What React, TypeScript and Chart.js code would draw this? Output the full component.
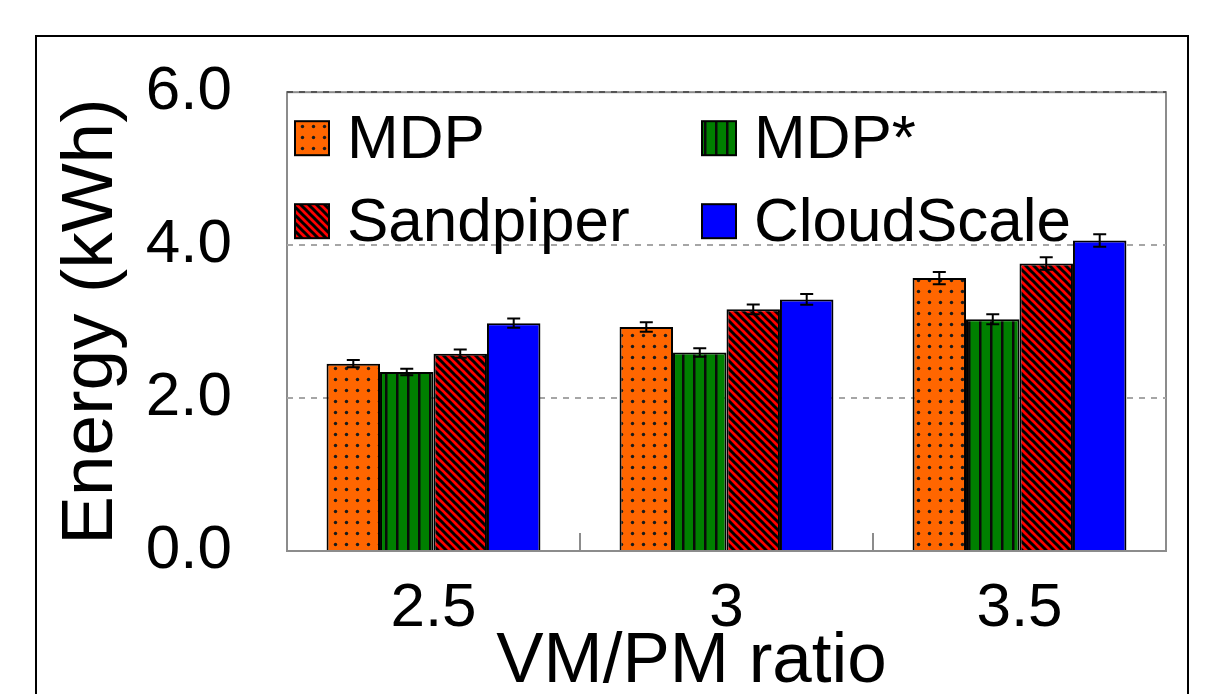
import React, { useEffect, useRef } from 'react';
import { Chart, registerables } from 'chart.js';

Chart.register(...registerables);

const categories = ['2.5', '3', '3.5'];
const seriesLabels = ['MDP', 'MDP*', 'Sandpiper', 'CloudScale'];
const mdpValues = [2.45, 2.93, 3.57];
const mdpStarValues = [2.34, 2.595, 3.03];
const sandpiperValues = [2.58, 3.16, 3.76];
const cloudScaleValues = [2.98, 3.29, 4.06];
const mdpErrors = [0.048, 0.063, 0.08];
const mdpStarErrors = [0.043, 0.056, 0.066];
const sandpiperErrors = [0.054, 0.065, 0.082];
const cloudScaleErrors = [0.06, 0.07, 0.082];
const yMin = 0;
const yMax = 6;
const yStep = 2;
const xTitle = 'VM/PM ratio';
const yTitle = 'Energy (kWh)';

const FONT = '"Liberation Sans", Arial, sans-serif';

function makePattern(kind: string): CanvasPattern | string {
  const c = document.createElement('canvas');
  const ctx = c.getContext('2d');
  if (!ctx) return '#888';
  if (kind === 'dots') {
    c.width = 11; c.height = 11;
    ctx.fillStyle = '#ff6600';
    ctx.fillRect(0, 0, 11, 11);
    ctx.fillStyle = '#1a1a1a';
    ctx.beginPath();
    ctx.arc(5.5, 5.5, 1.7, 0, Math.PI * 2);
    ctx.fill();
  } else if (kind === 'vlines') {
    c.width = 11; c.height = 4;
    ctx.fillStyle = '#008000';
    ctx.fillRect(0, 0, 11, 4);
    ctx.fillStyle = '#0a0a0a';
    ctx.fillRect(0, 0, 2.5, 4);
  } else if (kind === 'diag') {
    c.width = 8; c.height = 8;
    ctx.fillStyle = '#ff0000';
    ctx.fillRect(0, 0, 8, 8);
    ctx.strokeStyle = '#000';
    ctx.lineWidth = 3;
    for (let k = -1; k <= 1; k++) {
      ctx.beginPath();
      ctx.moveTo(k * 8 - 2, -2);
      ctx.lineTo(k * 8 + 10, 10);
      ctx.stroke();
    }
  } else {
    return '#0000ff';
  }
  const p = ctx.createPattern(c, 'repeat');
  return p || '#888';
}

const decorPlugin = {
  id: 'decor',
  beforeDraw(chart: any) {
    const { ctx, chartArea: a } = chart;
    ctx.save();
    ctx.fillStyle = '#fff';
    ctx.fillRect(0, 0, chart.width, chart.height);
    ctx.strokeStyle = '#000';
    ctx.lineWidth = 2;
    ctx.strokeRect(36, 36, 1152, 740);
    ctx.strokeStyle = '#8c8c8c';
    ctx.lineWidth = 2;
    ctx.strokeRect(a.left, a.top, a.right - a.left, a.bottom - a.top);
    ctx.restore();
  },
  afterDatasetsDraw(chart: any) {
    const { ctx, chartArea: a } = chart;
    const xScale = chart.scales.x;
    const yScale = chart.scales.y;
    ctx.save();
    // inward category-boundary ticks
    ctx.strokeStyle = '#8c8c8c';
    ctx.lineWidth = 2;
    for (let i = 0; i < categories.length - 1; i++) {
      const x = (xScale.getPixelForValue(i) + xScale.getPixelForValue(i + 1)) / 2;
      ctx.beginPath();
      ctx.moveTo(x, a.bottom);
      ctx.lineTo(x, a.bottom - 18);
      ctx.stroke();
    }
    // error bars
    ctx.strokeStyle = '#000';
    ctx.lineWidth = 2;
    chart.data.datasets.forEach((ds: any, di: number) => {
      const meta = chart.getDatasetMeta(di);
      meta.data.forEach((bar: any, j: number) => {
        const v = ds.data[j];
        const e = ds.errors[j];
        const yt = yScale.getPixelForValue(v + e);
        const yb = yScale.getPixelForValue(v - e);
        const x = bar.x;
        ctx.beginPath();
        ctx.moveTo(x, yt); ctx.lineTo(x, yb);
        ctx.moveTo(x - 6.5, yt); ctx.lineTo(x + 6.5, yt);
        ctx.moveTo(x - 6.5, yb); ctx.lineTo(x + 6.5, yb);
        ctx.stroke();
      });
    });
    // legend (2 columns x 2 rows)
    const colX = [a.left + 8, a.left + 415];
    const rowY = [a.top + 29, a.top + 112];
    ctx.font = '62px ' + FONT;
    ctx.textAlign = 'left';
    ctx.textBaseline = 'alphabetic';
    chart.data.datasets.forEach((ds: any, di: number) => {
      const bx = colX[di % 2];
      const by = rowY[Math.floor(di / 2)];
      ctx.fillStyle = ds.backgroundColor;
      ctx.fillRect(bx, by, 34, 34);
      ctx.strokeStyle = '#000';
      ctx.lineWidth = 2;
      ctx.strokeRect(bx, by, 34, 34);
      ctx.fillStyle = '#000';
      ctx.fillText(ds.label, bx + 52, by + 37);
    });
    // x axis title
    ctx.font = '71px ' + FONT;
    ctx.textAlign = 'center';
    ctx.fillStyle = '#000';
    ctx.fillText(xTitle, (a.left + a.right) / 2 - 35, 682);
    ctx.restore();
  },
};

export default function App() {
  const ref = useRef<HTMLCanvasElement>(null);
  useEffect(() => {
    document.body.style.margin = '0';
    if (!ref.current) return;
    const patterns = [makePattern('dots'), makePattern('vlines'), makePattern('diag'), makePattern('solid')];
    const values = [mdpValues, mdpStarValues, sandpiperValues, cloudScaleValues];
    const errors = [mdpErrors, mdpStarErrors, sandpiperErrors, cloudScaleErrors];
    const chart = new Chart(ref.current, {
      type: 'bar',
      data: {
        labels: categories,
        datasets: seriesLabels.map((label, i) => ({
          label,
          data: values[i],
          errors: errors[i],
          backgroundColor: patterns[i],
          borderColor: '#000',
          borderWidth: 2,
          categoryPercentage: 0.73,
          barPercentage: 1,
        })) as any,
      },
      options: {
        responsive: false,
        animation: false,
        devicePixelRatio: 1,
        layout: { padding: { top: 89, right: 49, left: 0, bottom: 0 } },
        plugins: { legend: { display: false }, tooltip: { enabled: false } },
        scales: {
          x: {
            offset: true,
            grid: { display: false, drawTicks: false },
            border: { display: false },
            ticks: { color: '#000', font: { family: FONT, size: 62 }, padding: 21, maxRotation: 0 },
            afterFit: (s: any) => { s.height = 143; },
          },
          y: {
            min: yMin,
            max: yMax,
            ticks: {
              stepSize: yStep,
              color: '#000',
              font: { family: FONT, size: 62 },
              padding: 55,
              callback: (v: any) => Number(v).toFixed(1),
            },
            grid: {
              drawTicks: false,
              lineWidth: 2,
              color: (c: any) => {
                const v = c.tick ? c.tick.value : null;
                if (v === yMin) return 'rgba(0,0,0,0)';
                if (v === yMax) return '#555';
                return '#a6a6a6';
              },
            },
            border: { display: false, dash: [6, 6] },
            title: {
              display: true,
              text: yTitle,
              color: '#000',
              font: { family: FONT, size: 73, lineHeight: 1.2 },
              padding: { top: 48, bottom: 0 },
            },
            afterFit: (s: any) => { s.width = 287; },
          },
        },
      },
      plugins: [decorPlugin],
    } as any);
    return () => chart.destroy();
  }, []);
  return (
    <div style={{ width: 1215, height: 694, position: 'relative', background: '#fff' }}>
      <canvas ref={ref} width={1215} height={694} style={{ display: 'block', width: 1215, height: 694 }} />
    </div>
  );
}
